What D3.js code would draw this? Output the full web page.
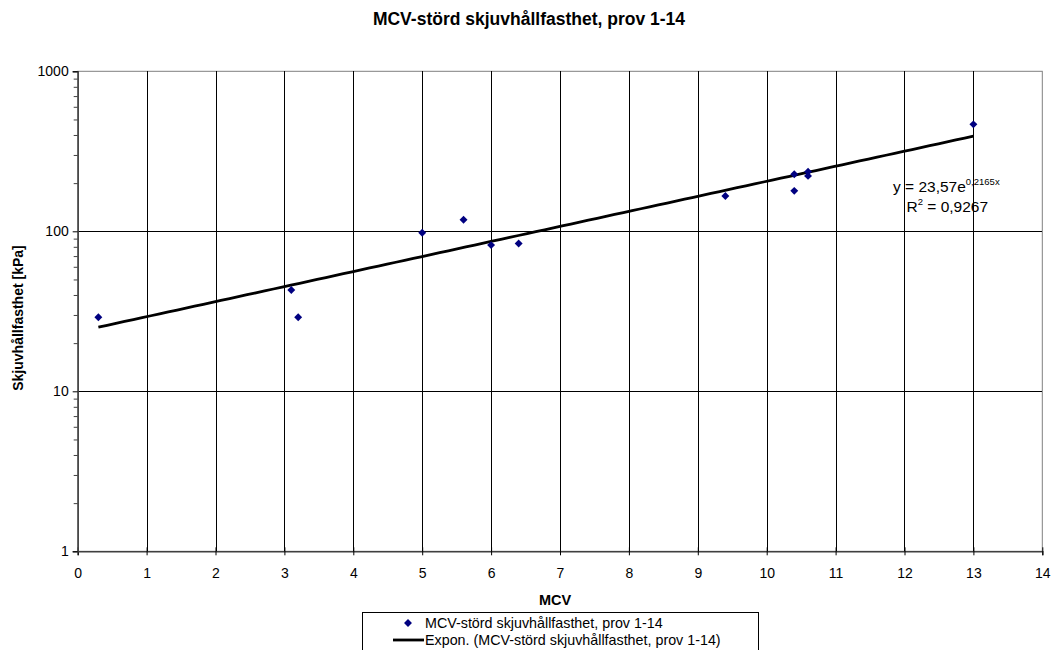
<!DOCTYPE html>
<html>
<head>
<meta charset="utf-8">
<script src="https://cdn.jsdelivr.net/npm/d3@7"></script>
<style>
  html, body { margin: 0; padding: 0; background: #fff; }
  svg { display: block; font-family: "Liberation Sans", Arial, sans-serif; }
</style>
</head>
<body>
<svg id="chart" width="1058" height="650"></svg>
<script>
// MCV values and measured undrained shear strength (kPa)
const mcv = [0.3, 3.1, 3.2, 5.0, 5.6, 6.0, 6.4, 9.4, 10.4, 10.4, 10.6, 10.6, 13.0];
const strength = [29, 43, 29, 98, 118, 82, 84, 166, 227, 179, 236, 222, 466];

// Exponential trend fit: y = a * e^(b x)
const trendA = 23.57;
const trendB = 0.2165;
const trendR2 = "0,9267";
const trendRange = [0.3, 13.0];

const xTicks = [0, 1, 2, 3, 4, 5, 6, 7, 8, 9, 10, 11, 12, 13, 14];
const yTicks = [1, 10, 100, 1000];

const titleText = "MCV-störd skjuvhållfasthet, prov 1-14";
const xLabel = "MCV";
const yLabel = "Skjuvhållfasthet [kPa]";
const seriesName = "MCV-störd skjuvhållfasthet, prov 1-14";
const trendName = "Expon. (MCV-störd skjuvhållfasthet, prov 1-14)";

const svg = d3.select("#chart");
const plot = { left: 77.7, right: 1042.3, top: 71.3, bottom: 551.3 };
const tickFont = 14;

const x = d3.scaleLinear().domain([0, 14]).range([plot.left, plot.right]);
const y = d3.scaleLog().domain([1, 1000]).range([plot.bottom, plot.top]);

// Title
svg.append("text")
  .attr("x", 529).attr("y", 25)
  .attr("text-anchor", "middle")
  .attr("font-size", 17.5).attr("font-weight", "bold")
  .text(titleText);

// Plot area border (gray)
svg.append("rect")
  .attr("x", plot.left).attr("y", plot.top)
  .attr("width", plot.right - plot.left).attr("height", plot.bottom - plot.top)
  .attr("fill", "none").attr("stroke", "#808080").attr("stroke-width", 1);

// Gridlines
const grid = svg.append("g").attr("stroke", "#000").attr("stroke-width", 1).attr("shape-rendering", "crispEdges");
grid.selectAll("line.v").data(xTicks.filter(d => d > 0 && d < 14)).join("line")
  .attr("x1", d => Math.round(x(d)) + 0.5).attr("x2", d => Math.round(x(d)) + 0.5)
  .attr("y1", plot.top).attr("y2", plot.bottom);
grid.selectAll("line.h").data(yTicks.filter(d => d > 1 && d < 1000)).join("line")
  .attr("y1", d => Math.round(y(d)) + 0.5).attr("y2", d => Math.round(y(d)) + 0.5)
  .attr("x1", plot.left).attr("x2", plot.right);

// X axis
const xAxis = d3.axisBottom(x).tickValues(xTicks).tickSize(4).tickPadding(0).tickFormat(d3.format("d"));
const gx = svg.append("g").attr("transform", `translate(0,${plot.bottom})`).call(xAxis);
gx.select(".domain").attr("stroke", "#404040").attr("stroke-width", 1.5);
gx.selectAll(".tick line").attr("stroke", "#000").attr("y1", -4);
gx.selectAll(".tick text").attr("font-size", tickFont).attr("fill", "#000")
  .attr("font-family", "Liberation Sans, Arial, sans-serif")
  .attr("dy", null).attr("y", 27);

// Y axis with minor ticks
const minor = [];
for (let dec = 1; dec < 1000; dec *= 10) for (let k = 2; k <= 9; k++) minor.push(dec * k);
const gyMinor = svg.append("g").attr("transform", `translate(${plot.left},0)`)
  .call(d3.axisLeft(y).tickValues(minor).tickSize(4).tickFormat(""));
gyMinor.select(".domain").remove();
gyMinor.selectAll(".tick line").attr("stroke", "#404040");

const yAxis = d3.axisLeft(y).tickValues(yTicks).tickSize(5).tickPadding(4).tickFormat(d3.format("d"));
const gy = svg.append("g").attr("transform", `translate(${plot.left},0)`).call(yAxis);
gy.select(".domain").attr("stroke", "#404040").attr("stroke-width", 1.5);
gy.selectAll(".tick line").attr("stroke", "#000");
gy.selectAll(".tick text").attr("font-size", tickFont).attr("fill", "#000")
  .attr("font-family", "Liberation Sans, Arial, sans-serif");

// Axis titles
svg.append("text")
  .attr("x", 555).attr("y", 605)
  .attr("text-anchor", "middle")
  .attr("font-size", 14.5).attr("font-weight", "bold")
  .text(xLabel);
svg.append("text")
  .attr("transform", `translate(23,318) rotate(-90)`)
  .attr("text-anchor", "middle")
  .attr("font-size", 14).attr("font-weight", "bold")
  .text(yLabel);

// Trendline
const trendPts = d3.range(0, 101).map(i => {
  const xv = trendRange[0] + (trendRange[1] - trendRange[0]) * i / 100;
  return [xv, trendA * Math.exp(trendB * xv)];
});
svg.append("path")
  .datum(trendPts)
  .attr("fill", "none").attr("stroke", "#000").attr("stroke-width", 2.8)
  .attr("d", d3.line().x(d => x(d[0])).y(d => y(d[1])));

// Data points
const diamond = d3.symbol().type(d3.symbolDiamond2).size(40);
svg.append("g").selectAll("path").data(mcv.map((m, i) => [m, strength[i]])).join("path")
  .attr("transform", d => `translate(${x(d[0])},${y(d[1])})`)
  .attr("d", diamond)
  .attr("fill", "#000080");

// Trend equation label
const eq = svg.append("text").attr("x", 893).attr("y", 192).attr("font-size", 15.5).attr("fill", "#000");
eq.append("tspan").text("y = 23,57e");
eq.append("tspan").attr("font-size", 9.5).attr("dy", -7).text("0,2165x");
const r2 = svg.append("text").attr("x", 906.5).attr("y", 212).attr("font-size", 15.5).attr("fill", "#000");
r2.append("tspan").text("R");
r2.append("tspan").attr("font-size", 9.5).attr("dy", -7).text("2");
r2.append("tspan").attr("dy", 7).text(" = " + trendR2);

// Legend
const lg = svg.append("g");
lg.append("rect")
  .attr("x", 362.5).attr("y", 612.5).attr("width", 396).attr("height", 50)
  .attr("fill", "#fff").attr("stroke", "#000").attr("stroke-width", 1);
lg.append("path").attr("transform", "translate(408,623)").attr("d", diamond).attr("fill", "#000080");
lg.append("text").attr("x", 425).attr("y", 628).attr("font-size", 14.3).text(seriesName);
lg.append("line").attr("x1", 393).attr("x2", 424).attr("y1", 640).attr("y2", 640)
  .attr("stroke", "#000").attr("stroke-width", 2.8);
lg.append("text").attr("x", 425).attr("y", 645).attr("font-size", 14.3).text(trendName);
</script>
</body>
</html>
